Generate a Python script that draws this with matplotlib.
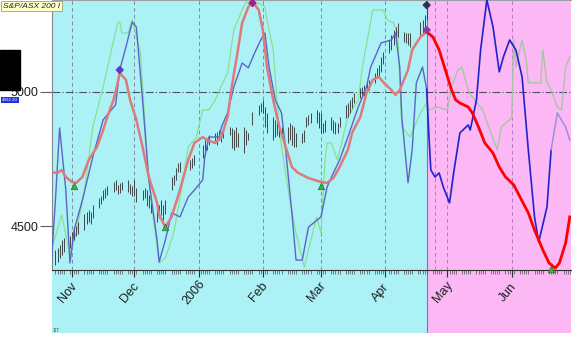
import pandas as pd
import matplotlib
matplotlib.use("Agg")
import matplotlib.pyplot as plt
import matplotlib.dates as mdates
import matplotlib.transforms as mtrans
from matplotlib.patches import Rectangle

plt.rcParams['font.family'] = ['Liberation Sans', 'DejaVu Sans']

# ---- data ----
# daily price bars (ASX trading days, holidays dropped)
bar_dates = pd.bdate_range("2005-10-24", "2006-04-21").drop(pd.to_datetime(
    ["2005-12-26", "2005-12-27", "2006-01-02", "2006-01-26", "2006-04-14", "2006-04-17"]))
bar_high = [4411, 4418, 4429, 4448, 4455, 4463,  # Oct
            4478, 4493, 4500, 4515, 4545, 4552, 4560, 4552, 4578, 4604, 4612, 4634, 4642, 4649,
            4664, 4672, 4653, 4661, 4664, 4672, 4657, 4649,  # Nov
            4672, 4642, 4634, 4642, 4634, 4616, 4586, 4571, 4578, 4597, 4578, 4597,
            4683, 4690, 4716, 4735, 4739, 4746, 4754, 4765,  # Dec
            4802, 4821, 4828, 4840, 4847, 4851, 4858, 4851, 4866, 4869,
            4866, 4858, 4869, 4847, 4869, 4858, 4847, 4925, 4951, 4959,  # Jan
            4970, 4944, 4922, 4907, 4896, 4896, 4877, 4869, 4869, 4884,
            4877, 4869, 4847, 4847, 4858, 4907, 4914, 4922, 4933, 4925,  # Feb
            4922, 4884, 4896, 4907, 4896, 4888, 4884, 4907, 4951, 4959, 4970, 4981,
            4996, 5015, 5019, 5026, 5037, 5045, 5071, 5089, 5101, 5130, 5149,  # Mar
            5194, 5213, 5231, 5242, 5257, 5224, 5220, 5220, 5220, 5261, 5269, 5287, 5324]  # Apr
bar_low = [4355, 4366, 4381, 4392, 4403, 4418,
           4433, 4448, 4463, 4470, 4485, 4507, 4515, 4507, 4530, 4567, 4582, 4597, 4604, 4616,
           4627, 4634, 4619, 4623, 4634, 4627, 4619, 4612,
           4612, 4590, 4597, 4604, 4575, 4567, 4549, 4515, 4530, 4541, 4522, 4545,
           4634, 4653, 4672, 4701, 4701, 4709, 4716, 4728,
           4754, 4765, 4784, 4802, 4810, 4802, 4821, 4813, 4828, 4840,
           4791, 4784, 4795, 4795, 4772, 4802, 4821, 4877, 4914, 4925,
           4922, 4869, 4847, 4821, 4832, 4840, 4832, 4832, 4810, 4821,
           4802, 4795, 4795, 4810, 4813, 4869, 4877, 4884, 4884, 4866,
           4847, 4847, 4851, 4858, 4847, 4843, 4847, 4869, 4903, 4907, 4922, 4940,
           4959, 4977, 4981, 4985, 5000, 5007, 5034, 5052, 5060, 5075, 5104,
           5145, 5157, 5175, 5183, 5205, 5186, 5183, 5175, 5168, 5213, 5220, 5239, 5269]

# dominant cycle (history) and its projection
cyc_dates = ["2005-10-21", "2005-10-25", "2005-10-27", "2005-10-29", "2005-11-01", "2005-11-03",
             "2005-11-06", "2005-11-09", "2005-11-13", "2005-11-16", "2005-11-18", "2005-11-21",
             "2005-11-23", "2005-11-24", "2005-11-27", "2005-11-29", "2005-12-02", "2005-12-05",
             "2005-12-08", "2005-12-12", "2005-12-13", "2005-12-16", "2005-12-19", "2005-12-23",
             "2005-12-27", "2005-12-30", "2006-01-03", "2006-01-05", "2006-01-09", "2006-01-12",
             "2006-01-15", "2006-01-17", "2006-01-20", "2006-01-22", "2006-01-25", "2006-01-27",
             "2006-01-30", "2006-02-01", "2006-02-03", "2006-02-06", "2006-02-09", "2006-02-12",
             "2006-02-15", "2006-02-18", "2006-02-23", "2006-03-01", "2006-03-04", "2006-03-07",
             "2006-03-10", "2006-03-14", "2006-03-16", "2006-03-20", "2006-03-23", "2006-03-26",
             "2006-03-29", "2006-03-31", "2006-04-04", "2006-04-06", "2006-04-08", "2006-04-12",
             "2006-04-14", "2006-04-18", "2006-04-21"]
cyc_vals = [4702, 4698, 4709, 4683, 4664, 4661, 4683, 4746, 4795, 4858, 4907, 4970, 5034, 5071,
            5045, 4970, 4896, 4795, 4683, 4586, 4541, 4496, 4534, 4634, 4746, 4810, 4832, 4821,
            4810, 4832, 4907, 5019, 5157, 5257, 5317, 5336, 5306, 5231, 5093, 4970, 4869, 4795,
            4720, 4698, 4679, 4664, 4661, 4679, 4720, 4784, 4847, 4907, 4996, 5045, 5056, 5037,
            5007, 4989, 5007, 5082, 5157, 5205, 5224]
proj_dates = ["2006-04-21", "2006-04-24", "2006-04-27", "2006-04-30", "2006-05-03", "2006-05-05",
              "2006-05-07", "2006-05-11", "2006-05-13", "2006-05-16", "2006-05-19", "2006-05-23",
              "2006-05-26", "2006-05-29", "2006-06-02", "2006-06-05", "2006-06-09", "2006-06-12",
              "2006-06-16", "2006-06-19", "2006-06-22", "2006-06-24", "2006-06-27", "2006-06-29"]
proj_vals = [5224, 5205, 5157, 5082, 5007, 4970, 4959, 4944, 4922, 4869, 4810, 4772, 4720, 4683,
             4653, 4608, 4549, 4485, 4411, 4362, 4343, 4362, 4437, 4534]

# blue oscillator overlay (drawn on the price scale)
osc_dates = ["2005-10-22", "2005-10-24", "2005-10-26", "2005-10-29", "2005-10-31", "2005-11-02",
             "2005-11-06", "2005-11-11", "2005-11-16", "2005-11-22", "2005-11-24", "2005-11-27",
             "2005-11-30", "2005-12-02", "2005-12-05", "2005-12-08", "2005-12-12", "2005-12-13",
             "2005-12-16", "2005-12-19", "2005-12-23", "2005-12-27", "2005-12-30", "2006-01-03",
             "2006-01-04", "2006-01-06", "2006-01-11", "2006-01-12", "2006-01-15", "2006-01-18",
             "2006-01-22", "2006-01-25", "2006-01-28", "2006-01-31", "2006-02-02", "2006-02-04",
             "2006-02-07", "2006-02-10", "2006-02-12", "2006-02-15", "2006-02-17", "2006-02-20",
             "2006-02-23", "2006-03-01", "2006-03-04", "2006-03-07", "2006-03-10", "2006-03-14",
             "2006-03-19", "2006-03-23", "2006-03-25", "2006-03-30", "2006-04-04", "2006-04-06",
             "2006-04-08", "2006-04-09", "2006-04-12", "2006-04-14", "2006-04-16", "2006-04-19",
             "2006-04-21",
             "2006-04-22", "2006-04-23", "2006-04-25", "2006-04-27", "2006-04-29", "2006-05-02",
             "2006-05-04", "2006-05-07", "2006-05-11", "2006-05-12", "2006-05-15", "2006-05-17",
             "2006-05-20", "2006-05-23", "2006-05-26", "2006-05-28", "2006-05-31", "2006-06-03",
             "2006-06-06", "2006-06-09", "2006-06-12", "2006-06-14", "2006-06-18", "2006-06-20",
             "2006-06-23", "2006-06-27", "2006-06-29"]
osc_vals = [4362, 4597, 4866, 4634, 4362, 4485, 4597, 4758, 4896, 4952, 5082, 5168, 5261, 5242,
            4970, 4672, 4448, 4366, 4448, 4549, 4534, 4608, 4634, 4672, 4758, 4832, 4832, 4869,
            4922, 5019, 5108, 5090, 5145, 5194, 5220, 5093, 4970, 4922, 4784, 4549, 4373, 4373,
            4496, 4534, 4646, 4698, 4746, 4832, 4944, 5019, 5093, 5183, 5194, 5220, 5093, 4907,
            4661, 4784, 5034, 5093, 5010,
            4847, 4709, 4683, 4698, 4646, 4586, 4698, 4847, 4877, 4858, 4970, 5157, 5343, 5242,
            5075, 5131, 5194, 5157, 5056, 4784, 4534, 4440, 4571, 4784, 4922, 4869, 4821]

# green overlay
grn_dates = ["2005-10-22", "2005-10-27", "2005-10-31", "2005-11-03", "2005-11-07", "2005-11-11",
             "2005-11-16", "2005-11-20", "2005-11-23", "2005-11-24", "2005-11-25", "2005-11-28",
             "2005-11-30", "2005-12-04", "2005-12-07", "2005-12-09", "2005-12-12", "2005-12-13",
             "2005-12-16", "2005-12-20", "2005-12-24", "2005-12-27", "2005-12-31", "2006-01-03",
             "2006-01-06", "2006-01-09", "2006-01-11", "2006-01-15", "2006-01-18", "2006-01-22",
             "2006-01-24", "2006-01-27", "2006-01-30", "2006-02-02", "2006-02-03", "2006-02-06",
             "2006-02-09", "2006-02-14", "2006-02-17", "2006-02-21", "2006-02-25", "2006-02-27",
             "2006-03-01", "2006-03-03", "2006-03-04", "2006-03-06", "2006-03-09", "2006-03-11",
             "2006-03-14", "2006-03-19", "2006-03-21", "2006-03-24", "2006-03-26", "2006-03-31",
             "2006-04-02", "2006-04-05", "2006-04-07", "2006-04-09", "2006-04-13", "2006-04-18",
             "2006-04-21",
             "2006-04-22", "2006-04-26", "2006-05-01", "2006-05-03", "2006-05-06", "2006-05-08",
             "2006-05-11", "2006-05-13", "2006-05-18", "2006-05-22", "2006-05-25", "2006-05-27",
             "2006-05-29", "2006-06-01", "2006-06-02", "2006-06-03", "2006-06-06", "2006-06-08",
             "2006-06-09", "2006-06-15", "2006-06-16", "2006-06-18", "2006-06-20", "2006-06-23",
             "2006-06-25", "2006-06-27", "2006-06-29"]
grn_vals = [4411, 4541, 4392, 4474, 4634, 4869, 5019, 5157, 5257, 5261, 5220, 5220, 5269, 5145,
            4784, 4597, 4422, 4362, 4381, 4474, 4646, 4795, 4832, 4933, 4933, 4970, 5007, 5071,
            5231, 5306, 5336, 5317, 5332, 5317, 5269, 5157, 4847, 4597, 4474, 4347, 4474, 4534,
            4474, 4746, 4810, 4810, 4746, 4810, 4907, 4970, 5093, 5220, 5306, 5306, 5269, 5257,
            5220, 4869, 4832, 4922, 4959,
            4933, 4944, 4933, 5019, 5082, 5093, 5007, 4981, 4933, 4847, 4784, 4869, 4884, 4903,
            5194, 5093, 5194, 5119, 5034, 5034, 5157, 5034, 5007, 4944, 4933, 5093, 5131]

# turning point markers
low_dates = ["2005-11-02", "2005-12-16", "2006-03-01", "2006-06-20"]
low_vals = [4649, 4496, 4649, 4340]
high_dates = ["2005-11-24", "2006-01-27", "2006-04-21", "2006-04-21"]
high_vals = [5082, 5332, 5324, 5231]
high_colors = ["#5a3cc8", "#a0208c", "#303058", "#8a3aa8"]

month_ticks = ["2005-11-01", "2005-12-01", "2006-01-01", "2006-02-01", "2006-03-01",
               "2006-04-01", "2006-05-01", "2006-06-01"]
month_labels = ["Nov", "Dec", "2006", "Feb", "Mar", "Apr", "May", "Jun"]

last_bar = pd.Timestamp("2006-04-21")
x_start, x_end = pd.Timestamp("2005-10-22 08:00"), pd.Timestamp("2006-06-29 14:00")

# ---- layout (pixel boxes on a 575x337 canvas) ----
W, H = 575, 337
def box(x0, y0, x1, y1):
    return [x0 / W, 1 - y1 / H, (x1 - x0) / W, (y1 - y0) / H]

fig = plt.figure(figsize=(5.75, 3.37), dpi=100)
fig.patch.set_facecolor("white")

bg = fig.add_axes(box(52, 0, 571, 333))
bg.axvspan(x_start, last_bar, color="#acf1f5", lw=0)
bg.axvspan(last_bar, x_end, color="#fbb8f5", lw=0)
bg.axvline(last_bar, color="#7a8088", lw=0.8)
bg.set_xlim(x_start, x_end)
bg.axis("off")

ax = fig.add_axes(box(52, 0, 571, 270))
ax.set_facecolor("none")
ax.set_xlim(x_start, x_end)
ax.set_ylim(4336, 5343)

# grid
for d in pd.to_datetime(month_ticks + ["2006-04-25"]):
    c = "#7f8fa0" if d < last_bar else "#b07cc0"
    ax.axvline(d, color=c, lw=0.7, dashes=(4, 3), zorder=1)
ax.axhline(5000, color="#505060", lw=0.8, dashes=(7, 2, 1, 2), zorder=1)

# price bars
ax.vlines(bar_dates, bar_low, bar_high, color="#3a3a3a", lw=0.65, zorder=3)

# green overlay
gd, gv = pd.to_datetime(grn_dates), pd.Series(grn_vals)
m = gd <= last_bar
ax.plot(gd[m], gv[m], color="#86de86", lw=0.8, zorder=2)
ax.plot(gd[gd >= last_bar], gv[gd >= last_bar], color="#a6c6a2", lw=1, zorder=2)

# blue oscillator
od, ov = pd.to_datetime(osc_dates), pd.Series(osc_vals)
split2 = pd.Timestamp("2006-06-20")
ax.plot(od[od <= last_bar], ov[od <= last_bar], color="#5c64c8", lw=1, zorder=4)
m2 = (od >= last_bar) & (od <= split2)
ax.plot(od[m2], ov[m2], color="#2222cc", lw=1.2, zorder=4)
ax.plot(od[od >= split2], ov[od >= split2], color="#9a90dc", lw=1.1, zorder=4)

# cycle and projection
ax.plot(pd.to_datetime(cyc_dates), cyc_vals, color="#dc7a7c", lw=1.8, zorder=5)
ax.plot(pd.to_datetime(proj_dates), proj_vals, color="#ff0000", lw=2, zorder=5)

# turning points
ax.scatter(pd.to_datetime(low_dates), low_vals, marker="^", s=22, color="#3cb43c",
           edgecolor="#2a6a2a", lw=0.5, zorder=6, clip_on=False)
ax.scatter(pd.to_datetime(high_dates), high_vals, marker="D", s=12, color=high_colors,
           zorder=6, clip_on=False)

# axes styling
ax.spines["right"].set_visible(False)
ax.spines["top"].set_color("#9aa0a8")
ax.spines["left"].set_color("#808890")
ax.spines["bottom"].set_color("#303030")

ax.set_yticks([4500, 5000])
ax.set_yticklabels(["4500", "5000"], fontsize=9, color="#202020")
ax.tick_params(axis="y", length=9, width=0.8, color="#606060", pad=1)

ax.xaxis.set_minor_locator(mdates.WeekdayLocator(byweekday=range(5)))
ax.set_xticks(pd.to_datetime(month_ticks))
ax.set_xticklabels(month_labels, fontsize=9, color="#202020")
ax.tick_params(axis="x", which="major", length=5, width=0.8, color="#303030", pad=11)
ax.tick_params(axis="x", which="minor", length=3, width=0.5, color="#505050")
shift = mtrans.ScaledTranslation(-3 / 72, 0, fig.dpi_scale_trans)
for lab in ax.get_xticklabels():
    lab.set_rotation(50)
    lab.set_rotation_mode("anchor")
    lab.set_ha("center")
    lab.set_va("center")
    lab.set_transform(lab.get_transform() + shift)

# left panel decorations
fig.patches.append(Rectangle((0, 1 - 90 / H), 20 / W, 40 / H, transform=fig.transFigure,
                             color="black", zorder=0))
fig.text(10 / W, 1 - 100 / H, "4992.20", fontsize=3.2, color="white", ha="center", va="center",
         bbox=dict(boxstyle="square,pad=0.2", fc="#2430e0", ec="none"))
fig.text(3 / W, 1 - 6 / H, "S&P/ASX 200 I", fontsize=6, style="italic", color="#202040",
         ha="left", va="center",
         bbox=dict(boxstyle="square,pad=0.2", fc="#ffffc8", ec="#a0a080", lw=0.6))
fig.text(53 / W, 1 - 333 / H, "1/7", fontsize=3.5, color="#404040", ha="left", va="bottom")

plt.savefig("out.png", dpi=100)
